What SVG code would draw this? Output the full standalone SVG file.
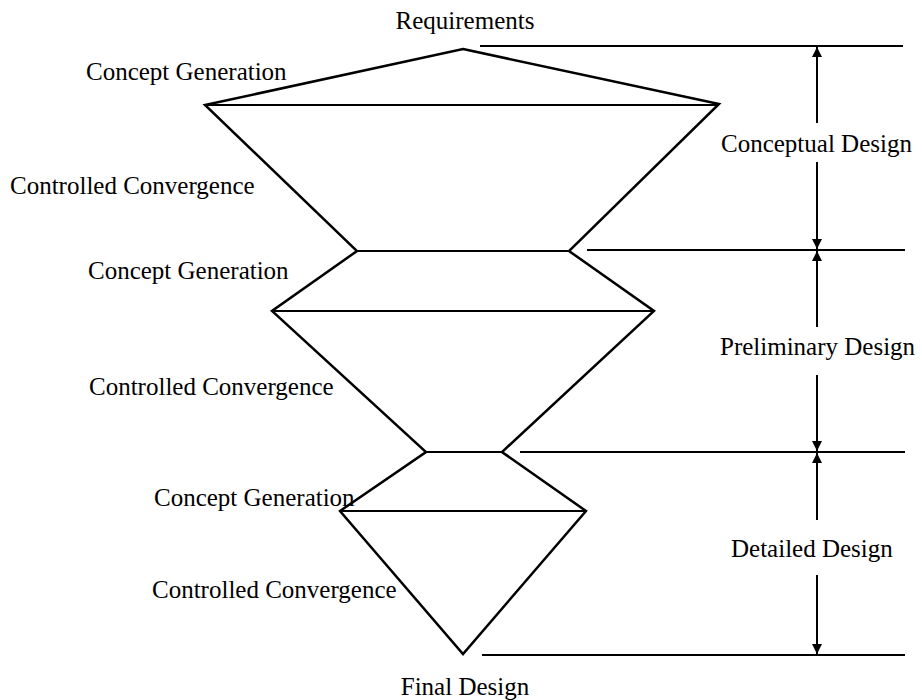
<svg xmlns="http://www.w3.org/2000/svg" width="922" height="700" viewBox="0 0 922 700">
<style>
text{font-family:"Liberation Serif","Times New Roman",serif;font-size:25px;fill:#000}
.s{fill:none;stroke:#000;stroke-width:2.5;stroke-linejoin:miter}
.h{stroke:#000;stroke-width:2}
.d{stroke:#000;stroke-width:2}
</style>
<defs>
<marker id="ah" viewBox="0 0 10 14" refX="10" refY="7" markerWidth="10" markerHeight="14" markerUnits="userSpaceOnUse" orient="auto">
<path d="M0,2 L10,7 L0,12 Z" fill="#000"/>
</marker>
</defs>
<rect width="922" height="700" fill="#fff"/>
<g id="funnel">
<polygon class="s" points="463,49 719,104 569,251 654,311 502,452 586,511 463,654 340,511 426,452 272,311 357,251 205,105"/>
<line class="h" x1="205" y1="105" x2="719" y2="105"/>
<line class="h" x1="357" y1="251" x2="569" y2="251"/>
<line class="h" x1="272" y1="311" x2="654" y2="311"/>
<line class="h" x1="426" y1="452" x2="502" y2="452"/>
<line class="h" x1="340" y1="511" x2="586" y2="511"/>
</g>
<g id="labels-left">
<text x="465" y="29" text-anchor="middle">Requirements</text>
<text x="86" y="80">Concept Generation</text>
<text x="10" y="194">Controlled Convergence</text>
<text x="88" y="279">Concept Generation</text>
<text x="89" y="395">Controlled Convergence</text>
<text x="154" y="506">Concept Generation</text>
<text x="152" y="598">Controlled Convergence</text>
<text x="465" y="695" text-anchor="middle">Final Design</text>
</g>
<g id="connectors">
<line class="h" x1="480" y1="46" x2="903" y2="46"/>
<line class="h" x1="587" y1="250" x2="905" y2="250"/>
<line class="h" x1="520" y1="452" x2="905" y2="452"/>
<line class="h" x1="482" y1="655" x2="905" y2="655"/>
<line class="d" x1="817" y1="123" x2="817" y2="47" marker-end="url(#ah)"/>
<line class="d" x1="817" y1="162" x2="817" y2="249" marker-end="url(#ah)"/>
<line class="d" x1="817" y1="327" x2="817" y2="251" marker-end="url(#ah)"/>
<line class="d" x1="817" y1="375" x2="817" y2="451" marker-end="url(#ah)"/>
<line class="d" x1="817" y1="520" x2="817" y2="453" marker-end="url(#ah)"/>
<line class="d" x1="817" y1="575" x2="817" y2="654" marker-end="url(#ah)"/>
</g>
<g id="phase-labels">
<text x="721" y="152">Conceptual Design</text>
<text x="720" y="355">Preliminary Design</text>
<text x="731" y="557">Detailed Design</text>
</g>
</svg>
